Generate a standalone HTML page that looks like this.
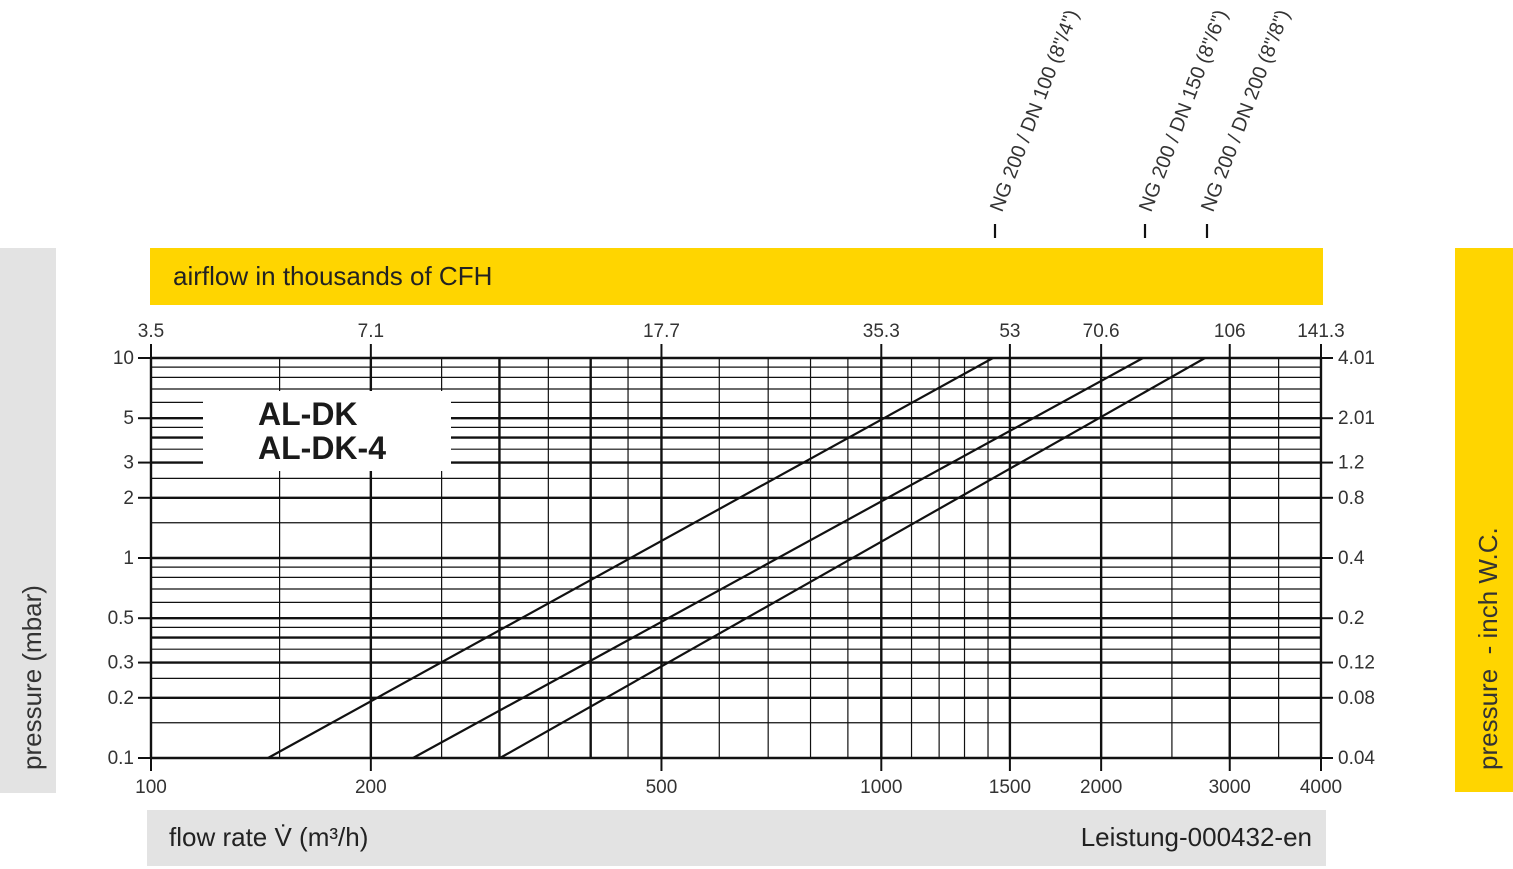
<!DOCTYPE html>
<html><head><meta charset="utf-8"><style>
html,body{margin:0;padding:0;background:#fff;}
body{width:1513px;height:869px;overflow:hidden;position:relative;font-family:"Liberation Sans",Arial,sans-serif;}
</style></head><body>
<svg id="s" width="1513" height="869" xmlns="http://www.w3.org/2000/svg" style="position:absolute;left:0;top:0" font-family="Liberation Sans, Arial, sans-serif">
<rect x="0" y="248" width="56" height="545" fill="#e3e3e3"/>
<rect x="1455" y="248" width="58" height="544" fill="#ffd500"/>
<rect x="150" y="248" width="1173" height="57" fill="#ffd500"/>
<rect x="147" y="810" width="1179" height="56" fill="#e3e3e3"/>
<text x="173" y="285" font-size="26" fill="#222">airflow in thousands of CFH</text>
<text x="169" y="846" font-size="26" fill="#222">flow rate V̇ (m³/h)</text>
<text x="1312" y="846" font-size="26" fill="#222" text-anchor="end">Leistung-000432-en</text>
<text transform="translate(41,770) rotate(-90)" font-size="26" fill="#333">pressure (mbar)</text>
<text transform="translate(1497,770) rotate(-90)" font-size="26" fill="#333" xml:space="preserve">pressure  - inch W.C.</text>
<g id="grid" stroke="#111" fill="none"></g>
<rect x="203" y="391" width="248" height="80" fill="#fff"/>
<text x="258" y="425" font-size="32" font-weight="bold" fill="#1a1a1a">AL-DK</text>
<text x="258" y="459" font-size="32" font-weight="bold" fill="#1a1a1a">AL-DK-4</text>
<g stroke="#111" stroke-width="2.2">
<line x1="268" y1="758" x2="993" y2="358"/>
<line x1="413" y1="758" x2="1143" y2="358"/>
<line x1="500" y1="758" x2="1205" y2="358"/>
<line x1="995" y1="224" x2="995" y2="238"/>
<line x1="1145" y1="224" x2="1145" y2="238"/>
<line x1="1207" y1="224" x2="1207" y2="238"/>
</g>
<g font-size="20" fill="#333">
<text transform="translate(1002,213) rotate(-69)">NG 200 / DN 100 (8"/4")</text>
<text transform="translate(1151,213) rotate(-69)">NG 200 / DN 150 (8"/6")</text>
<text transform="translate(1213,213) rotate(-69)">NG 200 / DN 200 (8"/8")</text>
</g>
<g id="lab" font-size="19" fill="#333"></g>
</svg>
<script>
var g=document.getElementById('grid'),L=document.getElementById('lab');
var X0=151,XS=730.3,Y0=758,YS=200;
function X(v){return X0+XS*Math.log10(v/100);}
function Y(v){return Y0-YS*Math.log10(v/0.1);}
function ln(x1,y1,x2,y2,w){var e=document.createElementNS('http://www.w3.org/2000/svg','line');e.setAttribute('x1',x1);e.setAttribute('y1',y1);e.setAttribute('x2',x2);e.setAttribute('y2',y2);e.setAttribute('stroke-width',w);g.appendChild(e);}
function tx(x,y,t,a){var e=document.createElementNS('http://www.w3.org/2000/svg','text');e.setAttribute('x',x);e.setAttribute('y',y);e.setAttribute('text-anchor',a);e.textContent=t;L.appendChild(e);}
[0.1,1].forEach(function(d){
 [[1,2.4],[1.5,1.2],[2,2.4],[2.5,1.2],[3,2.4],[3.5,1.2],[4,2.4],[4.5,1.2],[5,2.4],[6,1.2],[7,1.2],[8,1.2],[9,1.2]].forEach(function(p){var y=Y(p[0]*d);ln(151,y,1321,y,p[1]);});
});
ln(151,Y(10),1321,Y(10),2.4);
var thin=[150,250,350,450,600,700,800,900,1100,1200,1300,1400,2500,3500];
var thick=[100,200,300,400,500,1000,1500,2000,3000,4000];
thin.forEach(function(v){var x=X(v);ln(x,358,x,758,1.2);});
thick.forEach(function(v){var x=X(v);ln(x,358,x,758,2.4);});
[100,200,500,1000,1500,2000,3000,4000].forEach(function(v){var x=X(v);ln(x,758,x,771,2);tx(x,793,String(v),'middle');});
[[3.5,100],[7.1,200],[17.7,500],[35.3,1000],[53,1500],[70.6,2000],[106,3000],[141.3,4000]].forEach(function(p){var x=X(p[1]);ln(x,344,x,358,2);tx(x,337,String(p[0]),'middle');});
[[10,'10','4.01'],[5,'5','2.01'],[3,'3','1.2'],[2,'2','0.8'],[1,'1','0.4'],[0.5,'0.5','0.2'],[0.3,'0.3','0.12'],[0.2,'0.2','0.08'],[0.1,'0.1','0.04']].forEach(function(p){var y=Y(p[0]);ln(138,y,151,y,2);ln(1321,y,1333,y,2);tx(134,y+6,p[1],'end');tx(1338,y+6,p[2],'start');});
</script>
</body></html>
